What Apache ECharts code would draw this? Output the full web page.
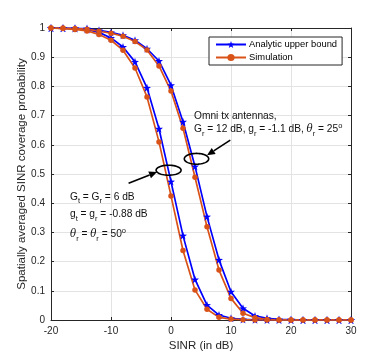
<!DOCTYPE html>
<html><head><meta charset="utf-8">
<script src="https://cdn.jsdelivr.net/npm/echarts@6/dist/echarts.min.js"></script>
<style>html,body{margin:0;padding:0;background:#fff}#c{width:388px;height:360px}</style>
</head><body><div id="c"></div>
<script>
const sinr = [-20,-18,-16,-14,-12,-10,-8,-6,-4,-2,0,2,4,6,8,10,12,14,16,18,20,22,24,26,28,30];
const analyticDirectional = [1.0,0.999,0.998,0.995,0.985,0.966,0.935,0.884,0.795,0.655,0.474,0.289,0.139,0.051,0.017,0.006,0.002,0.0005,0,0,0,0,0,0,0,0];
const simDirectional      = [1.0,0.998,0.995,0.99,0.978,0.958,0.924,0.863,0.764,0.61,0.425,0.238,0.103,0.037,0.009,0.003,0.001,0,0,0,0,0,0,0,0,0];
const analyticOmni = [1.0,1.0,0.999,0.998,0.992,0.985,0.975,0.958,0.929,0.887,0.804,0.679,0.526,0.354,0.206,0.097,0.04,0.014,0.006,0.002,0.001,0,0,0,0,0];
const simOmni      = [1.0,1.0,0.998,0.996,0.989,0.982,0.972,0.954,0.925,0.870,0.784,0.657,0.489,0.319,0.171,0.074,0.023,0.008,0.002,0,0,0,0,0,0,0];
const seriesNames = ['Analytic upper bound','Simulation'];
const xTicks = {min:-20,max:30,interval:10};
const yTicks = {min:0,max:1,interval:0.1};

const BLUE='#0000ff', ORANGE='#d95319', AX='#262626', FONT='Liberation Sans, Arial, sans-serif';
const star='path://M0,-10 L2.35,-3.24 L9.51,-3.09 L3.80,1.24 L5.88,8.09 L0,4 L-5.88,8.09 L-3.80,1.24 L-9.51,-3.09 L-2.35,-3.24 Z';
function pairs(ys){return sinr.map((x,i)=>[x,ys[i]]);}
function mk(name,ys,color,sym,size){
  return {name:name,type:'line',data:pairs(ys),xAxisIndex:0,yAxisIndex:0,
    lineStyle:{color:color,width:1.7},itemStyle:{color:color},
    symbol:sym,symbolSize:size,showSymbol:true,animation:false,silent:true};
}
const chart = echarts.init(document.getElementById('c'),null,{renderer:'canvas'});
const axisCommon = {axisLine:{show:true,onZero:false,lineStyle:{color:AX,width:1}},
  axisTick:{show:true,inside:true,length:3,lineStyle:{color:AX}}};
chart.setOption({
  animation:false,
  backgroundColor:'#fff',
  textStyle:{fontFamily:FONT},
  grid:{left:51,right:37,top:28,bottom:40,show:false},
  legend:{show:true,orient:'vertical',left:209,top:37,
    padding:[3,5,3,6],itemGap:4,itemWidth:30,itemHeight:9,
    backgroundColor:'#fff',borderColor:AX,borderWidth:1,borderRadius:0,
    textStyle:{fontSize:9.4,color:'#000',fontFamily:FONT,padding:[0,0,0,-2]},
    data:seriesNames},
  xAxis:[
    Object.assign({type:'value',position:'bottom',min:xTicks.min,max:xTicks.max,interval:xTicks.interval,
      name:'SINR (in dB)',nameLocation:'middle',nameGap:20,nameMoveOverlap:false,
      nameTextStyle:{fontSize:11.5,color:AX,fontFamily:FONT},
      axisLabel:{fontSize:10,color:AX,margin:6,fontFamily:FONT},
      splitLine:{show:true,lineStyle:{color:'#e3e3e3',width:1}}},axisCommon),
    Object.assign({type:'value',position:'top',min:xTicks.min,max:xTicks.max,interval:xTicks.interval,
      axisLabel:{show:false},splitLine:{show:false}},axisCommon)
  ],
  yAxis:[
    Object.assign({type:'value',position:'left',min:yTicks.min,max:yTicks.max,interval:yTicks.interval,
      name:'Spatially averaged SINR coverage probability',nameLocation:'middle',nameGap:23,nameMoveOverlap:false,
      nameTextStyle:{fontSize:11.5,color:AX,fontFamily:FONT},
      axisLabel:{fontSize:10,color:AX,margin:6,fontFamily:FONT},
      splitLine:{show:true,lineStyle:{color:'#e3e3e3',width:1}}},axisCommon),
    Object.assign({type:'value',position:'right',min:yTicks.min,max:yTicks.max,interval:yTicks.interval,
      axisLabel:{show:false},splitLine:{show:false}},axisCommon)
  ],
  series:[
    mk(seriesNames[0],analyticDirectional,BLUE,star,8),
    mk(seriesNames[0],analyticOmni,BLUE,star,8),
    mk(seriesNames[1],simDirectional,ORANGE,'circle',5.5),
    mk(seriesNames[1],simOmni,ORANGE,'circle',5.5)
  ]
});

// annotations (ellipses and arrows anchored in data coordinates)
function px(p){return chart.convertToPixel({gridIndex:0},p);}
function ellipse(c,rx,ry){
  const ctr=px(c), pts=[];
  for(let k=0;k<48;k++){const a=k/48*Math.PI*2;pts.push([ctr[0]+rx*Math.cos(a),ctr[1]+ry*Math.sin(a)]);}
  return {type:'polygon',shape:{points:pts},style:{fill:'none',stroke:'#000',lineWidth:1.6},z:100,silent:true};
}
function arrow(from,to){
  const a=px(from),b=px(to);
  const dx=b[0]-a[0],dy=b[1]-a[1],L=Math.hypot(dx,dy),ux=dx/L,uy=dy/L;
  const hl=8,hw=3.6;
  const base=[b[0]-ux*hl,b[1]-uy*hl];
  return [
    {type:'line',shape:{x1:a[0],y1:a[1],x2:base[0],y2:base[1]},style:{stroke:'#000',lineWidth:1.6},z:100,silent:true},
    {type:'polygon',shape:{points:[b,[base[0]-uy*hw,base[1]+ux*hw],[base[0]+uy*hw,base[1]-ux*hw]]},style:{fill:'#000'},z:100,silent:true}
  ];
}
const rich={
  n:{fontSize:10.2,lineHeight:16,color:'#111',fontFamily:FONT},
  s:{fontSize:7.5,lineHeight:8,verticalAlign:'bottom',color:'#111',fontFamily:FONT},
  p:{fontSize:7.5,lineHeight:8,verticalAlign:'top',color:'#111',fontFamily:FONT},
  i:{fontSize:10.2,lineHeight:16,fontStyle:'italic',color:'#111',fontFamily:'DejaVu Serif, serif'}
};
function txt(x,y,s){
  return {type:'text',x:x,y:y,z:100,silent:true,
    style:{text:s,rich:rich,fontSize:10.2,fill:'#111',font:'10.2px '+FONT,verticalAlign:'middle',align:'left'}};
}
const g=[
  ellipse([-0.4,0.513],12.5,5),
  ellipse([4.25,0.552],12.2,5.4),
  ...arrow([-7.07,0.468],[-2.33,0.507]),
  ...arrow([9.88,0.616],[6.0,0.564]),
  txt(194,115.7,'{n|Omni tx antennas,}'),
  txt(194,129.5,'{n|G}{s|r}{n| = 12 dB, g}{s|r}{n| = -1.1 dB, }{i|θ}{s|r}{n| = 25}{p|o}'),
  txt(70,197,'{n|G}{s|t}{n| = G}{s|r}{n| = 6 dB}'),
  txt(70,214.5,'{n|g}{s|t}{n| = g}{s|r}{n| = -0.88 dB}'),
  txt(70,234.5,'{i|θ}{s|r}{n| = }{i|θ}{s|r}{n| = 50}{p|o}')
];
chart.setOption({graphic:g});
</script></body></html>
